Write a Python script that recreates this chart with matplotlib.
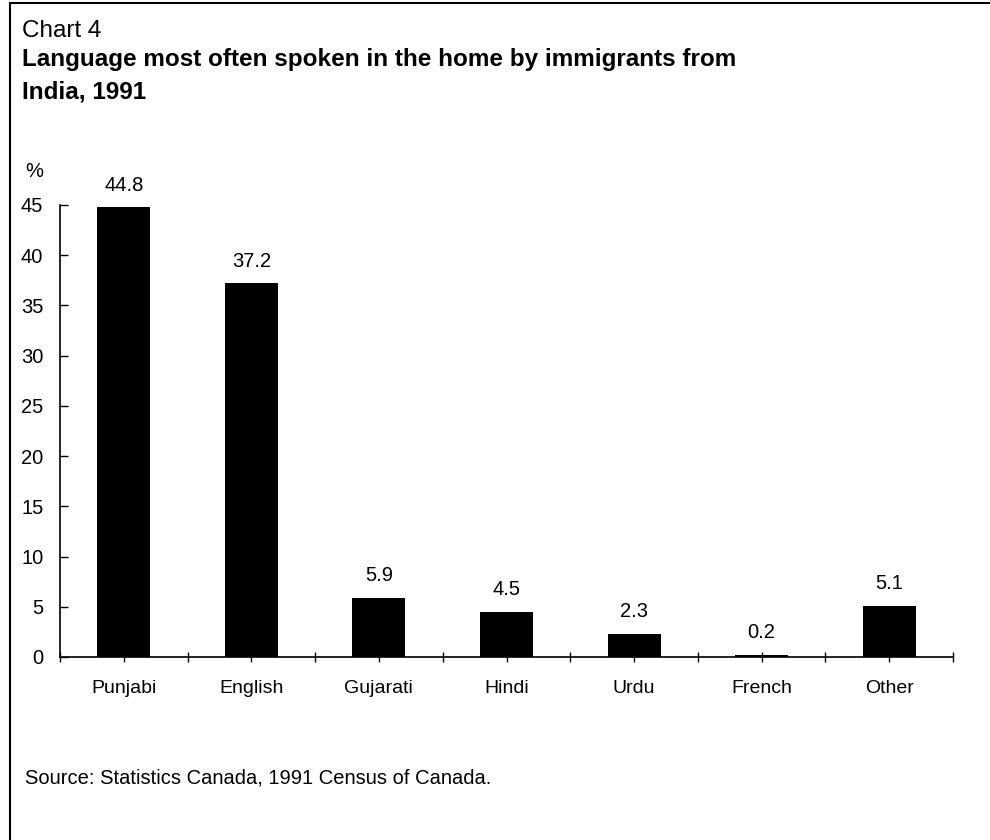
import matplotlib
matplotlib.use("Agg")
import matplotlib.pyplot as plt
from matplotlib.lines import Line2D
import numpy as np

categories = ["Punjabi", "English", "Gujarati", "Hindi", "Urdu", "French", "Other"]
values = [44.8, 37.2, 5.9, 4.5, 2.3, 0.2, 5.1]
value_labels = ["44.8", "37.2", "5.9", "4.5", "2.3", "0.2", "5.1"]
yticks = [0, 5, 10, 15, 20, 25, 30, 35, 40, 45]

plt.rcParams['font.family'] = ['Liberation Sans', 'DejaVu Sans']

fig = plt.figure(figsize=(9.9, 8.4), dpi=100)
W, H = 990, 840
ax = fig.add_axes([60 / W, 1 - 657 / H, (953 - 60) / W, (657 - 205) / H])

x = np.arange(len(categories))
ax.bar(x, values, width=0.415, color="black")
ax.set_xlim(-0.5, len(categories) - 0.5)
ax.set_ylim(0, 45)

for xi, v, lab in zip(x, values, value_labels):
    ax.annotate(lab, (xi, v), xytext=(0, 9), textcoords="offset points",
                ha="center", va="bottom", fontsize=14.5)

ax.set_yticks(yticks)
ax.set_yticklabels([str(t) for t in yticks], fontsize=14.5)
ax.set_xticks(x)
ax.set_xticklabels(categories, fontsize=14)
ax.set_xticks(np.arange(-0.5, len(categories), 1.0), minor=True)
ax.tick_params(axis="y", direction="in", length=6, width=1, pad=12)
ax.tick_params(axis="x", which="both", direction="inout", length=7, width=1, pad=13)

for s in ["top", "right"]:
    ax.spines[s].set_visible(False)
for s in ["left", "bottom"]:
    ax.spines[s].set_linewidth(1.2)

fig.text(25 / W, 1 - 177 / H, "%", fontsize=14.5, ha="left", va="baseline")

fig.text(22 / W, 1 - 37 / H, "Chart 4", fontsize=17.5, ha="left", va="baseline")
fig.text(22 / W, 1 - 66 / H, "Language most often spoken in the home by immigrants from",
         fontsize=17.5, fontweight="bold", ha="left", va="baseline")
fig.text(22 / W, 1 - 98 / H, "India, 1991", fontsize=17.5, fontweight="bold",
         ha="left", va="baseline")

fig.text(25 / W, 1 - 784 / H, "Source: Statistics Canada, 1991 Census of Canada.",
         fontsize=14.5, ha="left", va="baseline")

# frame (top and left edges visible in reference)
fig.add_artist(Line2D([10 / W, 10 / W], [0, 1 - 3 / H], color="black", lw=1.5,
                      transform=fig.transFigure))
fig.add_artist(Line2D([10 / W, 1], [1 - 3 / H, 1 - 3 / H], color="black", lw=1.5,
                      transform=fig.transFigure))

fig.savefig("out.png", dpi=100)
